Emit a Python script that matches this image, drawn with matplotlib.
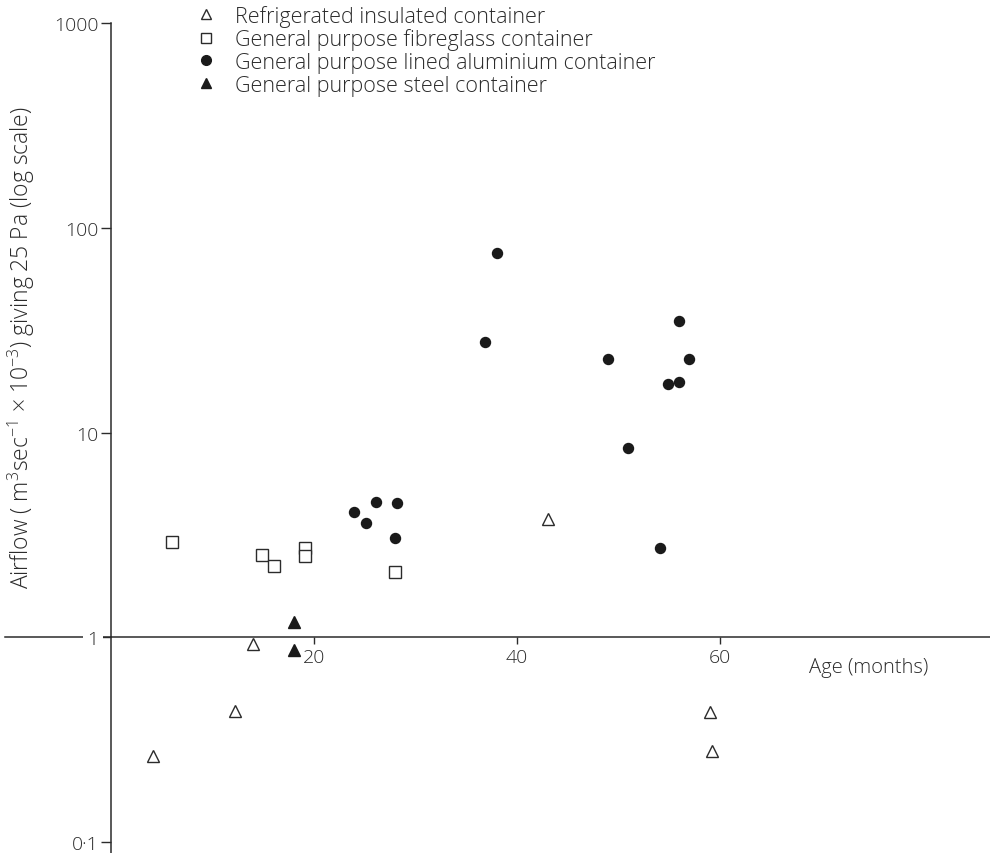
import matplotlib
matplotlib.use('Agg')
import matplotlib.pyplot as plt
from matplotlib.ticker import FixedLocator, NullLocator

plt.rcParams['font.family'] = ['Open Sans', 'DejaVu Sans']
plt.rcParams['font.weight'] = 'light'
plt.rcParams['mathtext.fontset'] = 'custom'
plt.rcParams['mathtext.rm'] = 'Open Sans:light'
plt.rcParams['mathtext.default'] = 'regular'

# data (age in months, airflow)
refrig_x = [4.1, 12.2, 14.0, 43.1, 59.0, 59.2]
refrig_y = [0.262, 0.437, 0.93, 3.8, 0.43, 0.278]

fibre_x = [6.0, 14.9, 16.1, 19.1, 19.1, 28.0]
fibre_y = [2.93, 2.51, 2.24, 2.74, 2.49, 2.09]

alu_x = [23.9, 25.1, 26.1, 28.2, 28.0, 36.8, 38.0, 49.0, 50.9, 54.1, 54.9, 56.0, 56.0, 56.9]
alu_y = [4.08, 3.6, 4.57, 4.54, 3.05, 27.6, 75.0, 22.9, 8.36, 2.74, 17.3, 17.7, 35.1, 22.9]

steel_x = [18.0, 18.0]
steel_y = [1.19, 0.867]

labels = ['Refrigerated insulated container',
          'General purpose fibreglass container',
          'General purpose lined aluminium container',
          'General purpose steel container']

xticks = [20, 40, 60]
yticks = [0.1, 1, 10, 100, 1000]
ytick_labels = ['0\u00b71', '1', '10', '100', '1000']

ink = '#2b2b2b'
W, H = 990, 854

fig = plt.figure(figsize=(W / 100, H / 100), dpi=100)
ax = fig.add_axes([111 / W, 0, 1 - 111 / W, 1 - 24 / H])

ax.set_yscale('log')
ax.set_xlim(0, 86.6)
ax.set_ylim(0.0884, 1000)

h1, = ax.plot(refrig_x, refrig_y, ls='', marker='^', markersize=8.5,
              markerfacecolor='white', markeredgecolor=ink, markeredgewidth=1.0)
h2, = ax.plot(fibre_x, fibre_y, ls='', marker='s', markersize=9,
              markerfacecolor='white', markeredgecolor=ink, markeredgewidth=1.0)
h3, = ax.plot(alu_x, alu_y, ls='', marker='o', markersize=7.2,
              markerfacecolor='#1a1a1a', markeredgecolor='#1a1a1a')
h4, = ax.plot(steel_x, steel_y, ls='', marker='^', markersize=9,
              markerfacecolor='#1a1a1a', markeredgecolor='#1a1a1a')

# spines: y axis at x=0, x axis crossing at airflow = 1
for s in ['top', 'right']:
	ax.spines[s].set_visible(False)
ax.spines['bottom'].set_position(('data', 1))
for s in ['left', 'bottom']:
	ax.spines[s].set_color(ink)
	ax.spines[s].set_linewidth(1.1)

# x axis line carries on to the left of the y axis
ax.plot([-10.4, 0], [1, 1], color=ink, lw=1.1, clip_on=False, zorder=1)

ax.xaxis.set_major_locator(FixedLocator(xticks))
ax.xaxis.set_minor_locator(NullLocator())
ax.set_xticklabels([str(t) for t in xticks])
ax.yaxis.set_major_locator(FixedLocator(yticks))
ax.yaxis.set_minor_locator(NullLocator())
ax.set_yticklabels(ytick_labels)

ax.tick_params(axis='x', direction='out', length=5, width=1.0, color=ink,
               labelsize=14, labelcolor=ink, pad=3)
ax.tick_params(axis='y', direction='out', length=7, width=1.0, color=ink,
               labelsize=14, labelcolor=ink, pad=2)

for t in ax.yaxis.get_major_ticks():
	if t.label1.get_text() == '1':
		t.label1.set_bbox(dict(facecolor='white', edgecolor='none', pad=3))

ax.text(74.6, 0.714, 'Age (months)', ha='center', va='center',
        fontsize=14.5, color=ink)

fig.text(21 / W, 1 - 348 / H,
         'Airflow ( m$^{3}$sec$^{-1}$ \u00d7 10$^{-3}$) giving 25 Pa (log scale)',
         rotation=90, ha='center', va='center', fontsize=16.5, color=ink)

leg = ax.legend([h1, h2, h3, h4], labels, loc='upper left',
                bbox_to_anchor=(188 / W, 1 + 3 / H), bbox_transform=fig.transFigure,
                frameon=False, fontsize=15.5, labelspacing=0.08,
                handlelength=0.9, handletextpad=0.9, borderaxespad=0)
for txt in leg.get_texts():
	txt.set_color(ink)
for lh in leg.legend_handles:
	lh.set_markersize(7)

fig.savefig('out.png', dpi=100)
